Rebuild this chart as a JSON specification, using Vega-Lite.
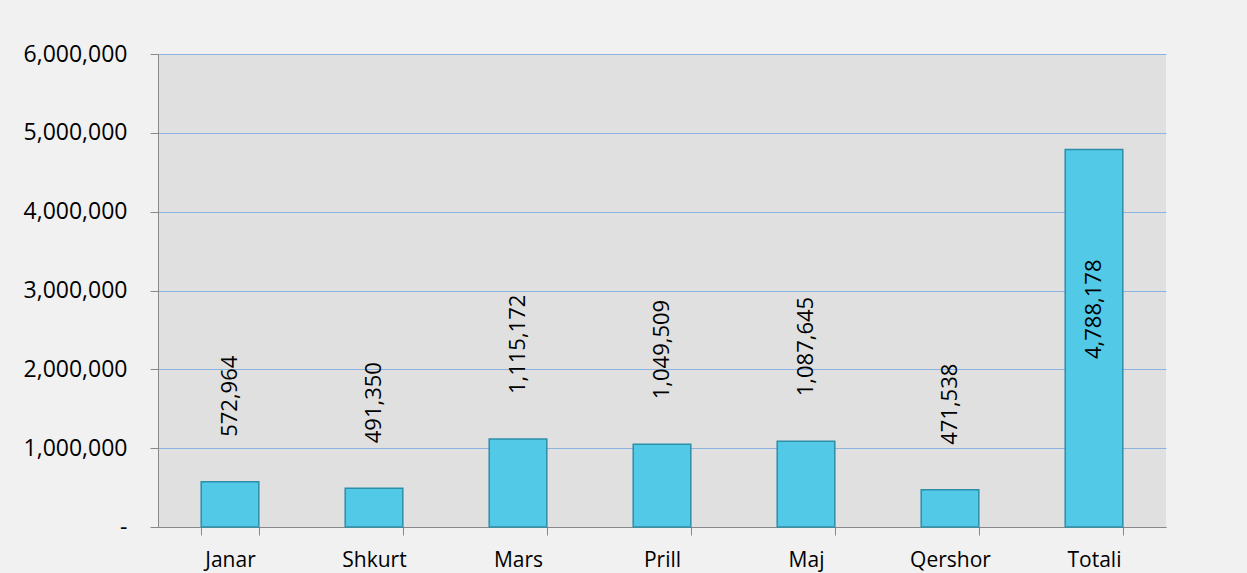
{
  "$schema": "https://vega.github.io/schema/vega-lite/v6.json",
  "width": 1008,
  "height": 473,
  "autosize": {"type": "none"},
  "padding": {"left": 158, "top": 54, "right": 81, "bottom": 46},
  "background": "#f1f1f1",
  "view": {"fill": "#e0e0e0", "stroke": null},
  "config": {"font": "Open Sans"},
  "data": {
    "values": [
      {"muaji": "Janar", "vlera": 572964},
      {"muaji": "Shkurt", "vlera": 491350},
      {"muaji": "Mars", "vlera": 1115172},
      {"muaji": "Prill", "vlera": 1049509},
      {"muaji": "Maj", "vlera": 1087645},
      {"muaji": "Qershor", "vlera": 471538},
      {"muaji": "Totali", "vlera": 4788178}
    ]
  },
  "encoding": {
    "x": {
      "field": "muaji", "type": "nominal", "sort": null,
      "scale": {"paddingInner": 0.6, "paddingOuter": 0.3},
      "axis": {
        "title": null, "labelAngle": 0, "labelFontSize": 21, "labelColor": "#000",
        "labelPadding": 14, "tickBand": "extent", "tickSize": 8,
        "tickColor": "#888", "domainColor": "#888", "labelFont": "Open Sans"
      }
    },
    "y": {
      "field": "vlera", "type": "quantitative",
      "scale": {"domain": [0, 6000000], "nice": false},
      "axis": {
        "title": null, "values": [0, 1000000, 2000000, 3000000, 4000000, 5000000, 6000000],
        "labelExpr": "datum.value == 0 ? '-' : format(datum.value, ',')",
        "labelFontSize": 23, "labelColor": "#000", "labelPadding": 23, "labelOverlap": false,
        "tickSize": 8, "tickColor": "#888", "domainColor": "#888",
        "gridColor": "#8db3e2", "gridWidth": 1
      }
    }
  },
  "layer": [
    {
      "mark": {"type": "bar", "color": "#52c9e7", "stroke": "#2d8ea8", "strokeWidth": 1.5}
    },
    {
      "transform": [{"filter": "datum.muaji != 'Totali'"}],
      "mark": {"type": "text", "angle": 270, "align": "left", "baseline": "middle", "dx": 45, "fontSize": 22, "color": "#000"},
      "encoding": {
        "text": {"field": "vlera", "type": "quantitative", "format": ","}
      }
    },
    {
      "transform": [{"filter": "datum.muaji == 'Totali'"}],
      "mark": {"type": "text", "angle": 270, "align": "right", "baseline": "middle", "dx": -110, "fontSize": 22, "color": "#000"},
      "encoding": {
        "text": {"field": "vlera", "type": "quantitative", "format": ","}
      }
    }
  ]
}
